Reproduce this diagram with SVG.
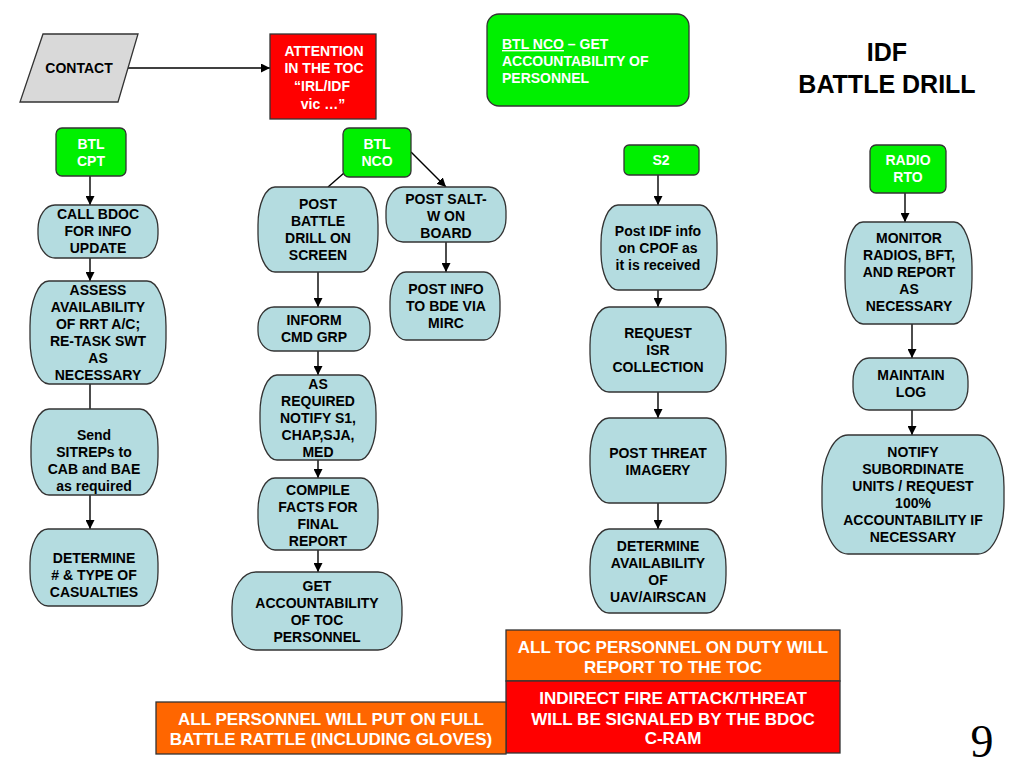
<svg xmlns="http://www.w3.org/2000/svg" width="1024" height="768" viewBox="0 0 1024 768">
<style>
text{font-family:"Liberation Sans",Arial,sans-serif;font-weight:bold;font-size:14px;text-anchor:middle}
.w{fill:#fff}
.k{fill:#000}
.node{fill:#b4dce0;stroke:#333;stroke-width:1.3}
.grn{fill:#00f000;stroke:#333;stroke-width:1.3}
.red{fill:#ff0000;stroke:#333;stroke-width:1.3}
.org{fill:#ff6600;stroke:#333;stroke-width:1.3}
.big{font-size:17px}
.ttl{font-size:25px}
.con line{stroke:#000;stroke-width:1.4}
.arr{marker-end:url(#ah)}
</style>
<defs>
<marker id="ah" markerUnits="userSpaceOnUse" markerWidth="10" markerHeight="9" refX="9" refY="4.5" orient="auto">
<path d="M0,0 L9,4.5 L0,9 z" fill="#000"/>
</marker>
</defs>
<rect width="1024" height="768" fill="#fff"/>

<g class="con">
<line class="arr" x1="128" y1="68" x2="270" y2="68"/>
<line class="arr" x1="90" y1="176" x2="90" y2="205"/>
<line class="arr" x1="90" y1="258" x2="90" y2="281"/>
<line x1="90" y1="384" x2="90" y2="409"/>
<line class="arr" x1="90" y1="495" x2="90" y2="529"/>
<line x1="352" y1="166" x2="328" y2="187"/>
<line class="arr" x1="411" y1="152" x2="446" y2="187"/>
<line class="arr" x1="318" y1="272" x2="318" y2="307"/>
<line class="arr" x1="318" y1="351" x2="318" y2="375"/>
<line class="arr" x1="318" y1="460" x2="318" y2="478"/>
<line class="arr" x1="318" y1="550" x2="318" y2="572"/>
<line class="arr" x1="446" y1="242" x2="446" y2="272"/>
<line class="arr" x1="658" y1="175" x2="658" y2="205"/>
<line class="arr" x1="658" y1="290" x2="658" y2="307"/>
<line class="arr" x1="658" y1="392" x2="658" y2="418"/>
<line class="arr" x1="658" y1="503" x2="658" y2="529"/>
<line class="arr" x1="905" y1="193" x2="905" y2="222"/>
<line class="arr" x1="912" y1="324" x2="912" y2="358"/>
<line class="arr" x1="912" y1="410" x2="912" y2="435"/>
</g>

<g id="contact">
<polygon points="43,34 138,34 118,102 20,102" fill="#d9d9d9" stroke="#333" stroke-width="1.3"/>
<text class="k" x="79" y="73">CONTACT</text>
</g>

<g id="attention">
<rect class="red" x="270" y="34" width="106" height="85"/>
<text class="w" x="324" y="56">ATTENTION</text>
<text class="w" x="324" y="73">IN THE TOC</text>
<text class="w" x="322" y="91">“IRL/IDF</text>
<text class="w" x="323" y="109">vic …”</text>
</g>

<g id="btl-nco-note">
<rect class="grn" x="487" y="14" width="202" height="92" rx="12"/>
<text class="w" x="502" y="49" style="text-anchor:start"><tspan text-decoration="underline">BTL NCO</tspan> – GET</text>
<text class="w" x="502" y="66" style="text-anchor:start">ACCOUNTABILITY OF</text>
<text class="w" x="502" y="83" style="text-anchor:start">PERSONNEL</text>
</g>

<g id="title">
<text class="k ttl" x="887" y="61">IDF</text>
<text class="k ttl" x="887" y="93">BATTLE DRILL</text>
</g>

<g id="btl-cpt">
<rect class="grn" x="56" y="128" width="70" height="48" rx="6"/>
<text class="w" x="91" y="149">BTL</text>
<text class="w" x="91" y="166">CPT</text>
</g>

<g id="call-bdoc">
<rect class="node" x="38" y="205" width="120" height="53" rx="17" ry="24"/>
<text class="k" x="98" y="219">CALL BDOC</text>
<text class="k" x="98" y="236">FOR INFO</text>
<text class="k" x="98" y="253">UPDATE</text>
</g>

<g id="assess">
<rect class="node" x="30" y="281" width="136" height="103" rx="19" ry="45"/>
<text class="k" x="98" y="295">ASSESS</text>
<text class="k" x="98" y="312">AVAILABILITY</text>
<text class="k" x="98" y="329">OF RRT A/C;</text>
<text class="k" x="98" y="346">RE-TASK SWT</text>
<text class="k" x="98" y="363">AS</text>
<text class="k" x="98" y="380">NECESSARY</text>
</g>

<g id="sitreps">
<rect class="node" x="31" y="409" width="127" height="86" rx="18" ry="38"/>
<text class="k" x="94" y="440">Send</text>
<text class="k" x="94" y="457">SITREPs to</text>
<text class="k" x="94" y="474">CAB and BAE</text>
<text class="k" x="94" y="491">as required</text>
</g>

<g id="casualties">
<rect class="node" x="30" y="529" width="128" height="77" rx="18" ry="34"/>
<text class="k" x="94" y="563">DETERMINE</text>
<text class="k" x="94" y="580"># &amp; TYPE OF</text>
<text class="k" x="94" y="597">CASUALTIES</text>
</g>

<g id="btl-nco">
<rect class="grn" x="343" y="128" width="68" height="49" rx="6"/>
<text class="w" x="377" y="149">BTL</text>
<text class="w" x="377" y="166">NCO</text>
</g>

<g id="post-battle">
<rect class="node" x="258" y="187" width="120" height="85" rx="17" ry="38"/>
<text class="k" x="318" y="209">POST</text>
<text class="k" x="318" y="226">BATTLE</text>
<text class="k" x="318" y="243">DRILL ON</text>
<text class="k" x="318" y="260">SCREEN</text>
</g>

<g id="post-salt">
<rect class="node" x="386" y="187" width="120" height="55" rx="17" ry="24"/>
<text class="k" x="446" y="204">POST SALT-</text>
<text class="k" x="446" y="221">W ON</text>
<text class="k" x="446" y="238">BOARD</text>
</g>

<g id="post-info">
<rect class="node" x="390" y="272" width="110" height="68" rx="16" ry="30"/>
<text class="k" x="446" y="294">POST INFO</text>
<text class="k" x="446" y="311">TO BDE VIA</text>
<text class="k" x="446" y="328">MIRC</text>
</g>

<g id="inform">
<rect class="node" x="258" y="307" width="112" height="44" rx="16" ry="20"/>
<text class="k" x="314" y="325">INFORM</text>
<text class="k" x="314" y="342">CMD GRP</text>
</g>

<g id="as-required">
<rect class="node" x="260" y="375" width="116" height="85" rx="17" ry="38"/>
<text class="k" x="318" y="389">AS</text>
<text class="k" x="318" y="406">REQUIRED</text>
<text class="k" x="318" y="423">NOTIFY S1,</text>
<text class="k" x="318" y="440">CHAP,SJA,</text>
<text class="k" x="318" y="457">MED</text>
</g>

<g id="compile">
<rect class="node" x="258" y="478" width="120" height="72" rx="17" ry="32"/>
<text class="k" x="318" y="495">COMPILE</text>
<text class="k" x="318" y="512">FACTS FOR</text>
<text class="k" x="318" y="529">FINAL</text>
<text class="k" x="318" y="546">REPORT</text>
</g>

<g id="get-accountability">
<rect class="node" x="232" y="572" width="170" height="78" rx="24" ry="35"/>
<text class="k" x="317" y="591">GET</text>
<text class="k" x="317" y="608">ACCOUNTABILITY</text>
<text class="k" x="317" y="625">OF TOC</text>
<text class="k" x="317" y="642">PERSONNEL</text>
</g>

<g id="s2">
<rect class="grn" x="624" y="145" width="75" height="30" rx="5"/>
<text class="w" x="661" y="165">S2</text>
</g>

<g id="post-idf">
<rect class="node" x="601" y="205" width="116" height="85" rx="17" ry="38"/>
<text class="k" x="658" y="236">Post IDF info</text>
<text class="k" x="658" y="253">on CPOF as</text>
<text class="k" x="658" y="270">it is received</text>
</g>

<g id="request-isr">
<rect class="node" x="590" y="307" width="136" height="85" rx="19" ry="38"/>
<text class="k" x="658" y="338">REQUEST</text>
<text class="k" x="658" y="355">ISR</text>
<text class="k" x="658" y="372">COLLECTION</text>
</g>

<g id="post-threat">
<rect class="node" x="590" y="418" width="136" height="85" rx="19" ry="38"/>
<text class="k" x="658" y="458">POST THREAT</text>
<text class="k" x="658" y="475">IMAGERY</text>
</g>

<g id="determine-uav">
<rect class="node" x="590" y="529" width="136" height="84" rx="19" ry="38"/>
<text class="k" x="658" y="551">DETERMINE</text>
<text class="k" x="658" y="568">AVAILABILITY</text>
<text class="k" x="658" y="585">OF</text>
<text class="k" x="658" y="602">UAV/AIRSCAN</text>
</g>

<g id="radio-rto">
<rect class="grn" x="870" y="145" width="76" height="48" rx="6"/>
<text class="w" x="908" y="165">RADIO</text>
<text class="w" x="908" y="182">RTO</text>
</g>

<g id="monitor">
<rect class="node" x="845" y="222" width="127" height="102" rx="18" ry="45"/>
<text class="k" x="909" y="243">MONITOR</text>
<text class="k" x="909" y="260">RADIOS, BFT,</text>
<text class="k" x="909" y="277">AND REPORT</text>
<text class="k" x="909" y="294">AS</text>
<text class="k" x="909" y="311">NECESSARY</text>
</g>

<g id="maintain-log">
<rect class="node" x="853" y="358" width="115" height="52" rx="16" ry="23"/>
<text class="k" x="911" y="380">MAINTAIN</text>
<text class="k" x="911" y="397">LOG</text>
</g>

<g id="notify">
<rect class="node" x="822" y="435" width="182" height="119" rx="26" ry="52"/>
<text class="k" x="913" y="457">NOTIFY</text>
<text class="k" x="913" y="474">SUBORDINATE</text>
<text class="k" x="913" y="491">UNITS / REQUEST</text>
<text class="k" x="913" y="508">100%</text>
<text class="k" x="913" y="525">ACCOUNTABILITY IF</text>
<text class="k" x="913" y="542">NECESSARY</text>
</g>

<g id="all-toc">
<rect class="org" x="506" y="630" width="334" height="51"/>
<text class="w big" x="673" y="653">ALL TOC PERSONNEL ON DUTY WILL</text>
<text class="w big" x="673" y="673">REPORT TO THE TOC</text>
</g>

<g id="indirect-fire">
<rect class="red" x="506" y="681" width="334" height="72"/>
<text class="w big" x="673" y="704">INDIRECT FIRE ATTACK/THREAT</text>
<text class="w big" x="673" y="725">WILL BE SIGNALED BY THE BDOC</text>
<text class="w big" x="673" y="744">C-RAM</text>
</g>

<g id="all-personnel">
<rect class="org" x="156" y="702" width="350" height="52"/>
<text class="w big" x="331" y="725">ALL PERSONNEL WILL PUT ON FULL</text>
<text class="w big" x="331" y="745">BATTLE RATTLE (INCLUDING GLOVES)</text>
</g>

<text x="982" y="757" style="font-family:'Liberation Serif','Times New Roman',serif;font-weight:normal;font-size:46px" class="k">9</text>
</svg>
